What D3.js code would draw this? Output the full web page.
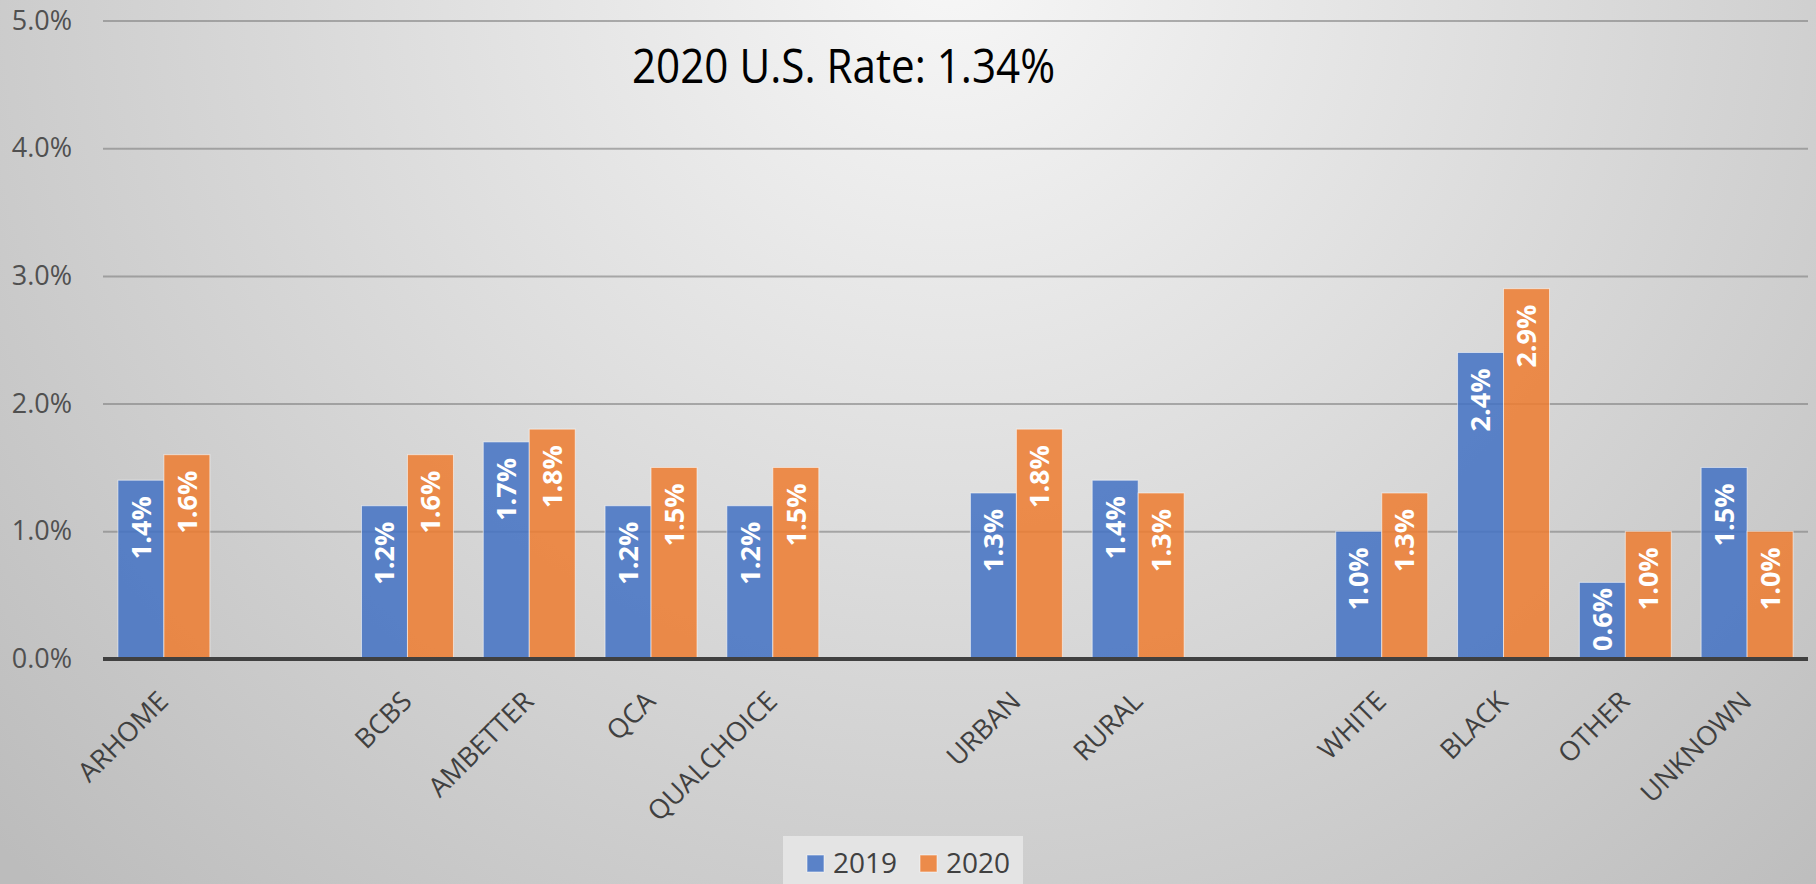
<!DOCTYPE html>
<html>
<head>
<meta charset="utf-8">
<script src="https://cdn.jsdelivr.net/npm/d3@7"></script>
<style>
  html, body { margin: 0; padding: 0; overflow: hidden; }
  svg { display: block; font-family: "Open Sans", sans-serif; }
</style>
</head>
<body>
<div id="chart"></div>
<script>
// DATA (blank entries are the spacer slots between groups)
const categories = ["ARHOME", "", "BCBS", "AMBETTER", "QCA", "QUALCHOICE", "", "URBAN", "RURAL", "", "WHITE", "BLACK", "OTHER", "UNKNOWN"];
const series = ["2019", "2020"];
const values2019 = [1.4, null, 1.2, 1.7, 1.2, 1.2, null, 1.3, 1.4, null, 1.0, 2.4, 0.6, 1.5];
const values2020 = [1.6, null, 1.6, 1.8, 1.5, 1.5, null, 1.8, 1.3, null, 1.3, 2.9, 1.0, 1.0];
const yTicks = [0, 1, 2, 3, 4, 5];
const titleText = "2020 U.S. Rate: 1.34%";

// CONSTANTS
const width = 1816,
    height = 884,
    margin = { top: 20.5, bottom: 225, left: 103, right: 8 };
const colors = { "2019": "#4472C4", "2020": "#ED7D31" };

const data = categories.map((c, i) => ({
    idx: i,
    name: c,
    vals: [
        { key: "2019", v: values2019[i] },
        { key: "2020", v: values2020[i] }
    ]
}));

const svg = d3.select("#chart")
    .append("svg")
    .attr("width", width)
    .attr("height", height);

// background gradient
const defs = svg.append("defs");
const grad = defs.append("radialGradient")
    .attr("id", "bg")
    .attr("gradientUnits", "userSpaceOnUse")
    .attr("cx", 950).attr("cy", -40).attr("r", 1300);
grad.append("stop").attr("offset", "0%").attr("stop-color", "#f7f7f7");
grad.append("stop").attr("offset", "100%").attr("stop-color", "#bcbcbc");

svg.append("rect")
    .attr("width", width)
    .attr("height", height)
    .attr("fill", "url(#bg)");

// SCALES
const x0Scale = d3.scaleBand()
    .domain(data.map(d => d.idx))
    .range([margin.left, width - margin.right])
    .paddingInner(0.245)
    .paddingOuter(0.1225);

const x1Scale = d3.scaleBand()
    .domain(series)
    .range([0, x0Scale.bandwidth()]);

const yScale = d3.scaleLinear()
    .domain([0, 5])
    .range([height - margin.bottom, margin.top]);

// gridlines
svg.append("g")
    .attr("class", "grid")
    .attr("transform", `translate(${margin.left},0)`)
    .call(d3.axisLeft(yScale).tickValues(yTicks.slice(1)).tickSize(-(width - margin.left - margin.right)).tickFormat(""))
    .call(g => g.select(".domain").remove())
    .call(g => g.selectAll("line").attr("stroke", "#7f7f7f").attr("stroke-opacity", 0.6).attr("stroke-width", 2));

// y axis labels
svg.append("g")
    .attr("class", "axis")
    .attr("transform", `translate(${margin.left},0)`)
    .call(d3.axisLeft(yScale).tickValues(yTicks).tickSize(0).tickPadding(31).tickFormat(d => d.toFixed(1) + "%"))
    .call(g => g.select(".domain").remove())
    .call(g => g.selectAll("text")
        .attr("fill", "#505050")
        .style("font-size", "27px")
        .style("font-family", "'Open Sans', sans-serif"));

// bars
const group = svg.selectAll(".cat")
    .data(data)
    .join("g")
    .attr("class", "cat")
    .attr("transform", d => `translate(${x0Scale(d.idx)},0)`);

group.selectAll("rect")
    .data(d => d.vals.filter(v => v.v !== null))
    .join("rect")
    .attr("x", d => x1Scale(d.key))
    .attr("y", d => yScale(d.v))
    .attr("width", x1Scale.bandwidth())
    .attr("height", d => yScale(0) - yScale(d.v))
    .attr("fill", d => colors[d.key])
    .attr("fill-opacity", 0.86)
    .attr("stroke", "#ffffff")
    .attr("stroke-opacity", 0.55)
    .attr("stroke-width", 1);

// data labels
group.selectAll("text.lbl")
    .data(d => d.vals.filter(v => v.v !== null))
    .join("text")
    .attr("class", "lbl")
    .attr("transform", d => {
        const cx = x1Scale(d.key) + x1Scale.bandwidth() / 2;
        const yy = Math.min(yScale(d.v) + 16, yScale(0) - 71);
        return `translate(${cx},${yy}) rotate(-90)`;
    })
    .attr("dy", "0.36em")
    .attr("text-anchor", "end")
    .attr("fill", "#ffffff")
    .style("font-size", "27px")
    .style("font-weight", "bold")
    .text(d => d.v.toFixed(1) + "%");

// x axis line
svg.append("line")
    .attr("x1", margin.left)
    .attr("x2", width - margin.right)
    .attr("y1", yScale(0))
    .attr("y2", yScale(0))
    .attr("stroke", "#404040")
    .attr("stroke-width", 4);

// category labels
svg.append("g")
    .selectAll("text")
    .data(data.filter(d => d.name !== ""))
    .join("text")
    .attr("transform", d => `translate(${x0Scale(d.idx) + x0Scale.bandwidth() / 2 + 6},${yScale(0) + 44}) rotate(-45)`)
    .attr("text-anchor", "end")
    .attr("fill", "#404040")
    .style("font-size", "27px")
    .text(d => d.name);

// title
svg.append("text")
    .attr("x", 632)
    .attr("y", 83)
    .attr("textLength", 423)
    .attr("lengthAdjust", "spacingAndGlyphs")
    .attr("fill", "#000000")
    .style("font-size", "48px")
    .text(titleText);

// legend
const legend = svg.append("g").attr("transform", "translate(783,836)");
legend.append("rect")
    .attr("width", 240)
    .attr("height", 48)
    .attr("fill", "#e4e4e4");

const legendItem = legend.selectAll(".item")
    .data(series)
    .join("g")
    .attr("class", "item")
    .attr("transform", (d, i) => `translate(${24 + i * 113},0)`);

legendItem.append("rect")
    .attr("y", 19)
    .attr("width", 17)
    .attr("height", 17)
    .attr("fill", d => colors[d])
    .attr("fill-opacity", 0.86)
    .attr("stroke", "#ffffff")
    .attr("stroke-opacity", 0.55);

legendItem.append("text")
    .attr("x", 26)
    .attr("y", 37)
    .attr("fill", "#404040")
    .style("font-size", "28px")
    .text(d => d);
</script>
</body>
</html>
